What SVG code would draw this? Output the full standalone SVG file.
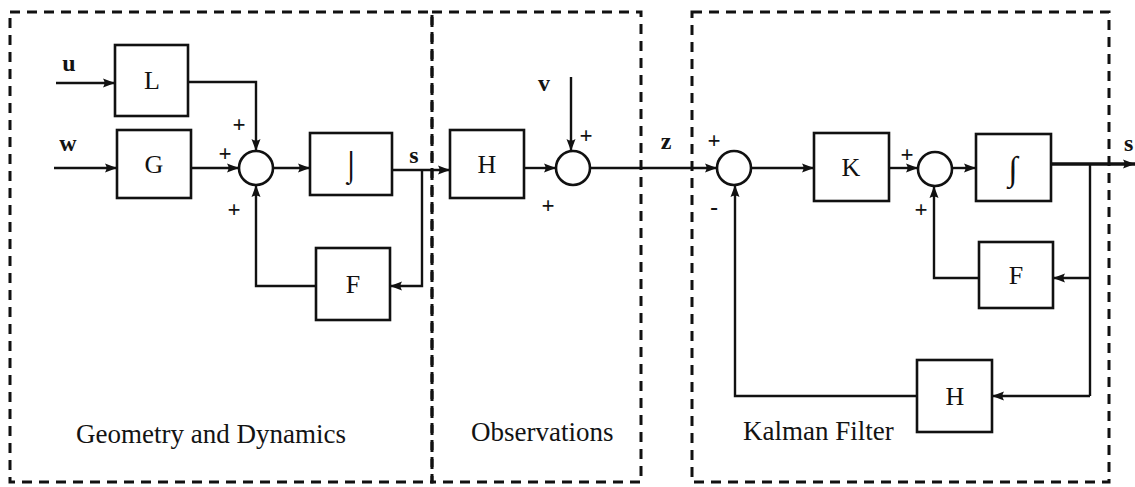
<svg xmlns="http://www.w3.org/2000/svg" width="1135" height="487" viewBox="0 0 1135 487">
<defs>
<style>
.frame{fill:none;stroke:#111;stroke-width:3;stroke-dasharray:10 7}
.blk{fill:#fff;stroke:#111;stroke-width:2.6}
.sum{fill:#fff;stroke:#111;stroke-width:2.6}
.wire{fill:none;stroke:#111;stroke-width:2.4}
.lbl{font-family:"Liberation Serif","DejaVu Serif",serif;font-size:26px;fill:#111;text-anchor:middle}
.intg{font-family:"Liberation Serif","DejaVu Serif",serif;font-size:34px;fill:#111;text-anchor:middle}
.sig{font-family:"Liberation Serif","DejaVu Serif",serif;font-size:24px;font-weight:bold;fill:#111;text-anchor:middle}
.pm{font-family:"Liberation Serif","DejaVu Serif",serif;font-size:23px;font-weight:bold;fill:#111;text-anchor:middle}
.cap{font-family:"Liberation Serif","DejaVu Serif",serif;font-size:27px;fill:#111}
</style>
<marker id="ah" markerWidth="13" markerHeight="11" refX="12" refY="5.5" orient="auto" markerUnits="userSpaceOnUse">
<path d="M0,1 L12,5.5 L0,10 Q3,5.5 0,1 Z" fill="#111"/>
</marker>
</defs>
<rect width="1135" height="487" fill="#fff"/>

<g id="frames">
<rect class="frame" x="10" y="12" width="422" height="470"/>
<rect class="frame" x="432" y="12" width="209" height="470"/>
<rect class="frame" x="692" y="12" width="417" height="470"/>
</g>

<g id="connectors">
<path class="wire" d="M56,83 H115" marker-end="url(#ah)"/>
<path class="wire" d="M54,168 H117" marker-end="url(#ah)"/>
<path class="wire" d="M188,82 H256 V151" marker-end="url(#ah)"/>
<path class="wire" d="M191,168 H239" marker-end="url(#ah)"/>
<path class="wire" d="M273,168 H310" marker-end="url(#ah)"/>
<path class="wire" d="M316,286 H256 V185" marker-end="url(#ah)"/>
<path class="wire" d="M392,170 H450" marker-end="url(#ah)"/>
<path class="wire" d="M422,170 V286 H390" marker-end="url(#ah)"/>
<path class="wire" d="M524,168 H556" marker-end="url(#ah)"/>
<path class="wire" d="M571,77 V151" marker-end="url(#ah)"/>
<path class="wire" d="M590,168 H717" marker-end="url(#ah)"/>
<path class="wire" d="M751,168 H814" marker-end="url(#ah)"/>
<path class="wire" d="M889,168 H918" marker-end="url(#ah)"/>
<path class="wire" d="M952,168 H976" marker-end="url(#ah)"/>
<path class="wire" d="M1051,164 H1135" style="stroke-width:3.6" marker-end="url(#ah)"/>
<path class="wire" d="M1090,164 V396"/>
<path class="wire" d="M1090,278 H1053" marker-end="url(#ah)"/>
<path class="wire" d="M979,278 H934 V186" marker-end="url(#ah)"/>
<path class="wire" d="M1090,396 H992" marker-end="url(#ah)"/>
<path class="wire" d="M917,396 H735 V185" marker-end="url(#ah)"/>
</g>

<g id="node-L"><rect class="blk" x="115" y="45" width="73" height="71"/><text class="lbl" x="152" y="89">L</text></g>
<g id="node-G"><rect class="blk" x="117" y="130" width="74" height="68"/><text class="lbl" x="154" y="173">G</text></g>
<g id="node-sum1"><circle class="sum" cx="256" cy="168" r="17"/></g>
<g id="node-int1"><rect class="blk" x="310" y="133" width="82" height="62"/><text class="lbl" x="351" y="176" style="font-size:30px">⌡</text></g>
<g id="node-F1"><rect class="blk" x="316" y="248" width="74" height="72"/><text class="lbl" x="353" y="293">F</text></g>
<g id="node-H1"><rect class="blk" x="450" y="130" width="74" height="68"/><text class="lbl" x="487" y="173">H</text></g>
<g id="node-sum2"><circle class="sum" cx="573" cy="168" r="17"/></g>
<g id="node-sum3"><circle class="sum" cx="734" cy="168" r="17"/></g>
<g id="node-K"><rect class="blk" x="814" y="133" width="75" height="68"/><text class="lbl" x="851" y="176">K</text></g>
<g id="node-sum4"><circle class="sum" cx="935" cy="169" r="17"/></g>
<g id="node-int2"><rect class="blk" x="976" y="134" width="75" height="67"/><text class="intg" x="1013" y="180">∫</text></g>
<g id="node-F2"><rect class="blk" x="979" y="242" width="74" height="66"/><text class="lbl" x="1016" y="284">F</text></g>
<g id="node-H2"><rect class="blk" x="917" y="360" width="75" height="72"/><text class="lbl" x="955" y="405">H</text></g>

<g id="labels" opacity="0.99">
<text class="sig" x="69" y="71">u</text>
<text class="sig" x="68" y="151">w</text>
<text class="sig" x="414" y="163">s</text>
<text class="sig" x="544" y="91">v</text>
<text class="sig" x="666" y="149">z</text>
<text class="sig" x="1124" y="151" style="text-anchor:start">s</text>
<text class="pm" x="239" y="132">+</text>
<text class="pm" x="225" y="161">+</text>
<text class="pm" x="234" y="217">+</text>
<text class="pm" x="586" y="143">+</text>
<text class="pm" x="548" y="213">+</text>
<text class="pm" x="714" y="148">+</text>
<text class="pm" x="714" y="215">-</text>
<text class="pm" x="907" y="162">+</text>
<text class="pm" x="921" y="217">+</text>
<text class="cap" x="76" y="443">Geometry and Dynamics</text>
<text class="cap" x="471" y="441">Observations</text>
<text class="cap" x="743" y="440">Kalman Filter</text>
</g>
</svg>
